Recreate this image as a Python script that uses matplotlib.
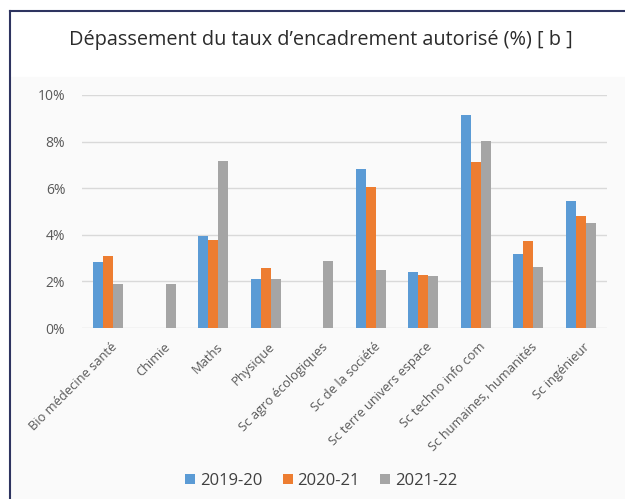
import numpy as np
import matplotlib
matplotlib.use('Agg')
import matplotlib.pyplot as plt
from matplotlib.lines import Line2D
from matplotlib.patches import Rectangle

categories = ['Bio médecine santé', 'Chimie', 'Maths', 'Physique', 'Sc agro écologiques',
              'Sc de la société', 'Sc terre univers espace', 'Sc techno info com',
              'Sc humaines, humanités', 'Sc ingénieur']
v2019 = [2.85, 0, 3.93, 2.11, 0, 6.84, 2.39, 9.13, 3.19, 5.44]
v2020 = [3.07, 0, 3.77, 2.58, 0, 6.04, 2.26, 7.14, 3.73, 4.81]
v2021 = [1.90, 1.90, 7.16, 2.10, 2.86, 2.50, 2.23, 8.04, 2.60, 4.49]
series = ['2019-20', '2020-21', '2021-22']
colors = ['#5b9bd5', '#ed7d31', '#a5a5a5']
yticks = [0, 2, 4, 6, 8, 10]

plt.rcParams['font.family'] = ['Open Sans', 'DejaVu Sans']

fig = plt.figure(figsize=(6.25, 4.99), dpi=100)
# light panel background and frame lines
fig.patches.append(Rectangle((11/625, 0), 1, 1 - 77/499, transform=fig.transFigure,
                             color='#fafafa', zorder=-10))
fig.add_artist(Line2D([10/625, 10/625], [0, 1 - 11/499], color='#2e3460', lw=1.5,
                      transform=fig.transFigure))
fig.add_artist(Line2D([10/625, 1], [1 - 11/499, 1 - 11/499], color='#2e3460', lw=1.5,
                      transform=fig.transFigure))

ax = fig.add_axes([82/625, 1 - 328/499, 525/625, 233/499])
ax.set_facecolor('none')
x = np.arange(len(categories))
w = 0.19
for i, (vals, c) in enumerate(zip([v2019, v2020, v2021], colors)):
    ax.bar(x + (i - 1) * w, vals, w, color=c, label=series[i], zorder=3)

ax.set_xlim(-0.5, len(categories) - 0.5)
ax.set_ylim(0, 10)
ax.set_yticks(yticks)
ax.set_yticklabels([f'{t}%' for t in yticks], fontsize=10, color='#595959')
ax.set_xticks(x + 0.05)
ax.set_xticklabels(categories, rotation=45, ha='right', rotation_mode='anchor',
                   fontsize=9.3, color='#595959')
ax.tick_params(length=0, pad=12)
ax.tick_params(axis='x', pad=9)
ax.grid(axis='y', color='#d9d9d9', lw=1, zorder=0)
for s in ax.spines.values():
    s.set_visible(False)

fig.text(0.513, 1 - 40/499, 'Dépassement du taux d’encadrement autorisé (%) [ b ]',
         ha='center', va='center', fontsize=14.3, color='#2b2b2b')

fig.legend(*ax.get_legend_handles_labels(), loc='center', bbox_to_anchor=(0.514, 1 - 481/499),
           ncol=3, frameon=False, fontsize=12, handlelength=0.6, handleheight=0.6,
           handletextpad=0.3, columnspacing=1.2, labelcolor='#404040')

fig.savefig('out.png', dpi=100)
